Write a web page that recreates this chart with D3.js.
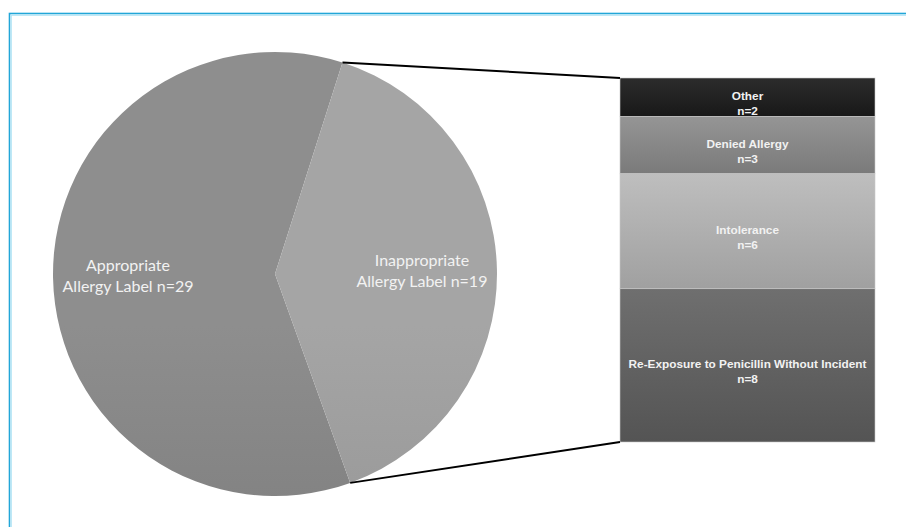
<!DOCTYPE html>
<html>
<head>
<meta charset="utf-8">
<script src="https://cdn.jsdelivr.net/npm/d3@7"></script>
<style>
  html, body { margin: 0; padding: 0; background: #fff; }
  svg { display: block; }
</style>
</head>
<body>
<svg id="chart" width="906" height="527"></svg>
<script>
// ---- data ----
const pieCategories = ["Appropriate", "Inappropriate"];
const pieLabelLine2 = ["Allergy Label n=29", "Allergy Label n=19"];
const pieValues = [29, 19];

const barCategories = ["Other", "Denied Allergy", "Intolerance", "Re-Exposure to Penicillin Without Incident"];
const barValues = [2, 3, 6, 8];

// ---- styles ----
const pieGrad = [["#8e8e8e", "#727272"], ["#a5a5a5", "#8b8b8b"]];
const barGrad = [["#2c2c2c", "#181818"], ["#959595", "#7a7a7a"], ["#bebebe", "#a0a0a0"], ["#6f6f6f", "#545454"]];

const svg = d3.select("#chart");
const defs = svg.append("defs");

// frame border
svg.append("rect").attr("x", 9.5).attr("y", 13.5).attr("width", 1000).attr("height", 1000)
  .attr("fill", "none").attr("stroke", "#22a6d8").attr("stroke-width", 1.6);
svg.append("rect").attr("x", 11.2).attr("y", 15.2).attr("width", 1000).attr("height", 1000)
  .attr("fill", "none").attr("stroke", "#b0e3f4").attr("stroke-width", 1.2);

// ---- pie ----
const cx = 275, cy = 274, r = 222;
const deg = Math.PI / 180;
const startA = 160.2 * deg;
const pie = d3.pie().sort(null).value(d => d).startAngle(startA).endAngle(startA + 2 * Math.PI);
const arcs = pie(pieValues);
const arc = d3.arc().innerRadius(0).outerRadius(r);
const labelArc = d3.arc().innerRadius(147).outerRadius(147);

pieGrad.forEach((g, i) => {
  const lg = defs.append("linearGradient").attr("id", "pg" + i)
    .attr("gradientUnits", "userSpaceOnUse")
    .attr("x1", 0).attr("y1", cy - r).attr("x2", 0).attr("y2", cy + r);
  lg.append("stop").attr("offset", "0%").attr("stop-color", g[0]);
  lg.append("stop").attr("offset", "100%").attr("stop-color", g[1]);
});

const pg = svg.append("g").attr("transform", `translate(${cx},${cy})`);
pg.selectAll("path").data(arcs).join("path")
  .attr("d", arc)
  .attr("fill", (d, i) => `url(#pg${i})`);

arcs.forEach((d, i) => {
  const [lx, ly] = labelArc.centroid(d);
  const t = pg.append("text").attr("text-anchor", "middle")
    .attr("font-family", "Lato, 'Open Sans', sans-serif").attr("font-size", 16)
    .attr("fill", "#f2f2f2");
  t.append("tspan").attr("x", lx).attr("y", ly - 5.5).text(pieCategories[i]);
  t.append("tspan").attr("x", lx).attr("y", ly + 15.5).text(pieLabelLine2[i]);
});

// ---- stacked bar ----
const bx0 = 620, bx1 = 875, by0 = 78, by1 = 442;
const total = d3.sum(barValues);
const y = d3.scaleLinear().domain([0, total]).range([by0, by1]);
let acc = 0;
const segs = barValues.map((v, i) => { const s = { i, v, y0: acc, y1: acc + v }; acc += v; return s; });

segs.forEach(s => {
  const lg = defs.append("linearGradient").attr("id", "bg" + s.i)
    .attr("x1", 0).attr("y1", 0).attr("x2", 0).attr("y2", 1);
  lg.append("stop").attr("offset", "0%").attr("stop-color", barGrad[s.i][0]);
  lg.append("stop").attr("offset", "100%").attr("stop-color", barGrad[s.i][1]);
});

const bg = svg.append("g");
bg.selectAll("rect").data(segs).join("rect")
  .attr("x", bx0).attr("width", bx1 - bx0)
  .attr("y", d => y(d.y0)).attr("height", d => y(d.y1) - y(d.y0))
  .attr("fill", d => `url(#bg${d.i})`)
  .attr("stroke", "#c8c8c8").attr("stroke-width", 0.6);

segs.forEach(s => {
  const mid = (y(s.y0) + y(s.y1)) / 2;
  const t = bg.append("text").attr("text-anchor", "middle")
    .attr("font-family", "Arial, 'Liberation Sans', sans-serif").attr("font-weight", "bold")
    .attr("font-size", 11.8).attr("fill", "#f2f2f2");
  t.append("tspan").attr("x", (bx0 + bx1) / 2).attr("y", mid + 3).text(barCategories[s.i]);
  t.append("tspan").attr("x", (bx0 + bx1) / 2).attr("y", mid + 17.5).text("n=" + s.v);
});

// ---- connector lines ----
const inap = arcs[1];
const pTop = [cx + r * Math.sin(inap.startAngle), cy - r * Math.cos(inap.startAngle)];
const pBot = [cx + r * Math.sin(inap.endAngle), cy - r * Math.cos(inap.endAngle)];
svg.append("line").attr("x1", pTop[0]).attr("y1", pTop[1]).attr("x2", bx0).attr("y2", y(0))
  .attr("stroke", "#000").attr("stroke-width", 2);
svg.append("line").attr("x1", pBot[0]).attr("y1", pBot[1]).attr("x2", bx0).attr("y2", y(total))
  .attr("stroke", "#000").attr("stroke-width", 2);
</script>
</body>
</html>
